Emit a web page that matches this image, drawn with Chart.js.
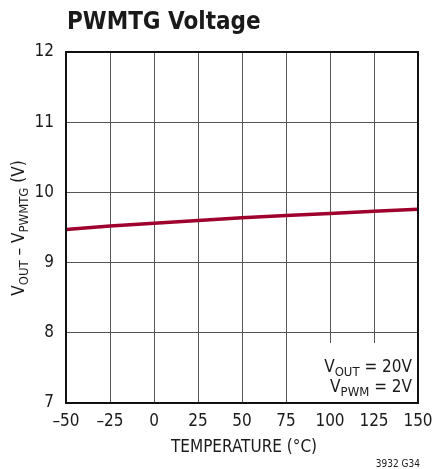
<!DOCTYPE html>
<html>
<head>
<meta charset="utf-8">
<script src="https://cdn.jsdelivr.net/npm/chart.js@4.4.1/dist/chart.umd.min.js"></script>
<style>
  html, body { margin: 0; padding: 0; background: #fff; }
  #wrap { width: 435px; height: 469px; position: relative; }
</style>
</head>
<body>
<div id="wrap"><canvas id="chart"></canvas></div>
<script>
// data
const temps = [-50, -25, 0, 25, 50, 75, 100, 125, 150];
const voltage = [9.47, 9.52, 9.56, 9.60, 9.64, 9.67, 9.70, 9.73, 9.76];
const xTicks = [-50, -25, 0, 25, 50, 75, 100, 125, 150];
const yTicks = [7, 8, 9, 10, 11, 12];

const FONT = '"Liberation Sans Narrow", "DejaVu Sans Condensed", "Liberation Sans", sans-serif';

// draws a run of text pieces, some as subscripts
function drawRich(ctx, parts, x, y, align) {
  let total = 0;
  parts.forEach(p => {
    ctx.font = (p.sub ? '13px ' : '17px ') + FONT;
    p.w = ctx.measureText(p.t).width;
    total += p.w;
  });
  let cx = align === 'center' ? x - total / 2 : (align === 'right' ? x - total : x);
  ctx.textAlign = 'left';
  ctx.textBaseline = 'alphabetic';
  parts.forEach(p => {
    ctx.font = (p.sub ? '13px ' : '17px ') + FONT;
    ctx.fillText(p.t, cx, y + (p.sub ? 4 : 0));
    cx += p.w;
  });
}

const decor = {
  id: 'decor',
  beforeDatasetsDraw(chart) {
    const { ctx, chartArea: a } = chart;
    // white box behind the condition note
    ctx.save();
    ctx.fillStyle = '#fff';
    ctx.fillRect(306, 343, a.right - 306, a.bottom - 343);
    ctx.restore();
  },
  afterDraw(chart) {
    const { ctx, chartArea: a } = chart;
    ctx.save();
    // frame
    ctx.strokeStyle = '#111';
    ctx.lineWidth = 2;
    ctx.strokeRect(a.left, a.top, a.right - a.left, a.bottom - a.top);

    ctx.fillStyle = '#1a1a1a';
    // title
    ctx.font = 'bold 24px ' + FONT;
    ctx.textAlign = 'left';
    ctx.textBaseline = 'alphabetic';
    ctx.fillText('PWMTG Voltage', 67, 29);

    // x axis title
    ctx.font = '17px ' + FONT;
    ctx.textAlign = 'center';
    ctx.fillText('TEMPERATURE (°C)', 244, 452);

    // y axis title, rotated
    ctx.save();
    ctx.translate(24, 228);
    ctx.rotate(-Math.PI / 2);
    drawRich(ctx, [
      { t: 'V' }, { t: 'OUT', sub: true }, { t: ' – V' }, { t: 'PWMTG', sub: true }, { t: ' (V)' }
    ], 0, 0, 'center');
    ctx.restore();

    // condition note
    drawRich(ctx, [{ t: 'V' }, { t: 'OUT', sub: true }, { t: ' = 20V' }], 412, 372, 'right');
    drawRich(ctx, [{ t: 'V' }, { t: 'PWM', sub: true }, { t: ' = 2V' }], 412, 392, 'right');

    // figure code
    ctx.font = '10px ' + FONT;
    ctx.textAlign = 'right';
    ctx.fillText('3932 G34', 420, 467);
    ctx.restore();
  }
};

new Chart(document.getElementById('chart'), {
  type: 'line',
  data: {
    labels: temps,
    datasets: [{
      data: temps.map((t, i) => ({ x: t, y: voltage[i] })),
      borderColor: '#a0002e',
      borderWidth: 3.5,
      pointRadius: 0,
      tension: 0
    }]
  },
  options: {
    responsive: true,
    maintainAspectRatio: false,
    animation: false,
    layout: { padding: { top: 52, right: 17, left: 0, bottom: 0 } },
    plugins: { legend: { display: false }, tooltip: { enabled: false } },
    scales: {
      x: {
        type: 'linear',
        min: -50, max: 150,
        afterBuildTicks: s => { s.ticks = xTicks.map(v => ({ value: v })); },
        afterFit: s => { s.height = 66; s.paddingLeft = 0; s.paddingRight = 0; },
        grid: { color: '#555', lineWidth: 1, drawTicks: false },
        border: { display: false },
        ticks: {
          color: '#1a1a1a', padding: 8, maxRotation: 0,
          font: { family: FONT, size: 17 },
          callback: v => String(v).replace('-', '–')
        }
      },
      y: {
        min: 7, max: 12,
        afterBuildTicks: s => { s.ticks = yTicks.map(v => ({ value: v })); },
        afterFit: s => { s.width = 66; s.paddingTop = 0; s.paddingBottom = 0; },
        grid: { color: '#555', lineWidth: 1, drawTicks: false },
        border: { display: false },
        ticks: {
          color: '#1a1a1a', padding: 12,
          font: { family: FONT, size: 17 }
        }
      }
    }
  },
  plugins: [decor]
});
</script>
</body>
</html>
